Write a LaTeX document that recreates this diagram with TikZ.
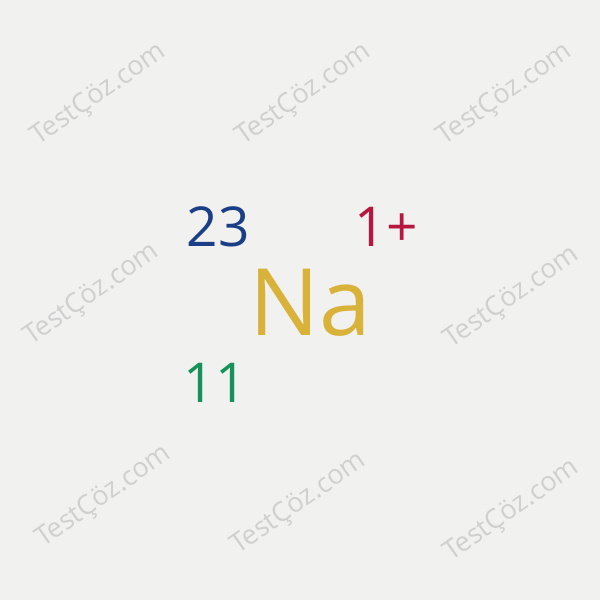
\documentclass[tikz,border=0pt]{standalone}
\usepackage{fontspec}
\setmainfont{Open Sans}
\usepackage{tikz}
\definecolor{bgcol}{HTML}{F1F1F0}
\definecolor{wmcol}{HTML}{D0D0D0}
\definecolor{masscol}{HTML}{1A3F86}
\definecolor{chargecol}{HTML}{B5173F}
\definecolor{symbcol}{HTML}{D9B23A}
\definecolor{atomcol}{HTML}{17925A}
\tikzstyle{watermark} = [text=wmcol, rotate=35, font=\fontsize{27}{27}\selectfont, inner sep=0pt]
\tikzstyle{num} = [font=\fontsize{55}{55}\selectfont, inner sep=0pt]
\tikzstyle{symb} = [font=\fontsize{93}{93}\selectfont, inner sep=0pt, text=symbcol]

\begin{document}
\begin{tikzpicture}[x=1pt, y=-1pt]
\fill [bgcol] (0,0) rectangle (600,600);
\useasboundingbox (0,0) rectangle (600,600);

\node (wm1) [watermark] at (99,95) {TestÇöz.com};
\node (wm2) [watermark] at (304,95) {TestÇöz.com};
\node (wm3) [watermark] at (505,95) {TestÇöz.com};
\node (wm4) [watermark] at (92,295) {TestÇöz.com};
\node (wm5) [watermark] at (512,298) {TestÇöz.com};
\node (wm6) [watermark] at (104,497) {TestÇöz.com};
\node (wm7) [watermark] at (299,504) {TestÇöz.com};
\node (wm8) [watermark] at (512,511) {TestÇöz.com};

\node (na) [symb] at (310,303) {Na};
\node (mass) [num, text=masscol] at (218,227) {23};
\node (charge) [num, text=chargecol] at (386,227) {1+};
\node (atomic) [num, text=atomcol] at (215,383) {11};

\end{tikzpicture}
\end{document}
